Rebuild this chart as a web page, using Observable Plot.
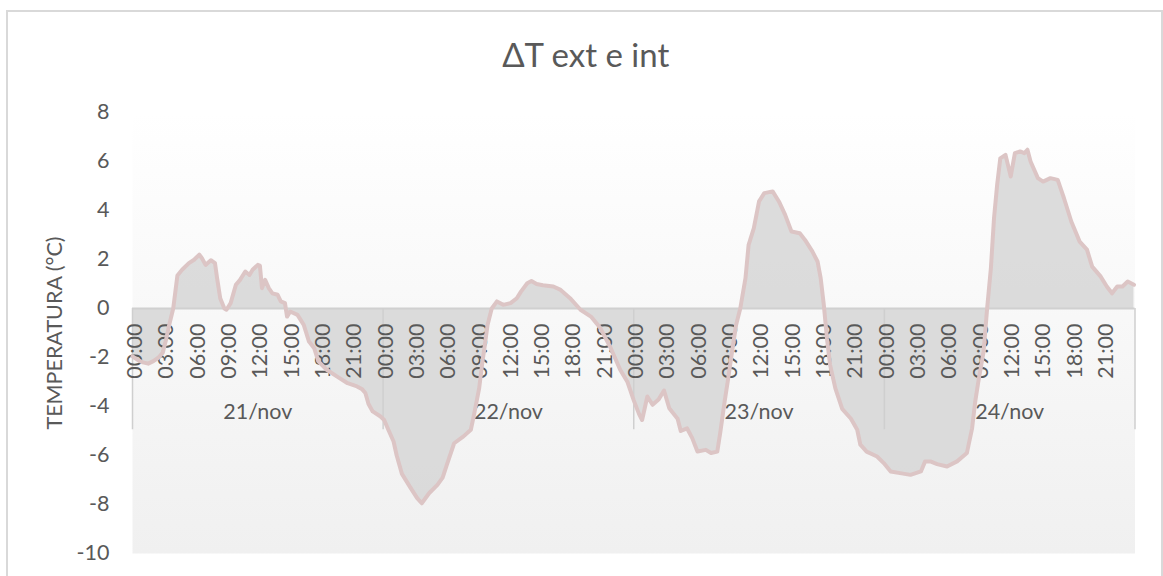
<!DOCTYPE html>
<html>
<head>
<meta charset="utf-8">
<script src="https://cdn.jsdelivr.net/npm/d3@7"></script>
<script src="https://cdn.jsdelivr.net/npm/@observablehq/plot@0.6"></script>
<style>
  html, body { margin: 0; padding: 0; background: #fff; }
  #wrap { position: relative; width: 1163px; height: 576px; overflow: hidden; }
  #border { position: absolute; left: 6px; top: 10px; width: 1153px; height: 600px;
            border: 2px solid #d9d9d9; pointer-events: none; }
  #chart { position: absolute; left: 0; top: 0; }
</style>
</head>
<body>
<div id="wrap"><div id="chart"></div><div id="border"></div></div>
<script>
// ---- data (hours since 21/nov 00:00, ΔT in °C) ----
const hours = [
  0.0, 0.5, 1.0, 1.5, 2.0, 2.5, 2.9, 3.2, 3.5, 3.9, 4.3, 4.75, 5.4, 5.9, 6.4, 6.65, 7.0, 7.5, 7.9, 8.1,
  8.4, 8.8, 9.0, 9.4, 9.9, 10.3, 10.8, 11.2, 11.5, 12.0, 12.2, 12.4, 12.7, 13.05, 13.4, 13.9, 14.2, 14.6, 14.8, 15.1,
  15.8, 16.4, 16.9, 17.4, 17.8, 18.6, 19.6, 20.6, 21.5, 22.0, 22.3, 22.6, 23.0, 23.75, 24.1, 24.5, 25.0, 25.3, 25.8, 26.6,
  27.26, 27.7, 28.4, 29.2, 29.7, 30.1, 30.8, 31.7, 32.4, 32.7, 33.2, 33.5, 33.7, 34.0, 34.4, 34.9, 35.5, 36.2, 36.8, 37.2,
  37.8, 38.2, 38.7, 39.3, 40.3, 41.0, 41.9, 42.9, 43.9, 44.8, 45.8, 46.7, 47.4, 48.0, 48.5, 48.8, 49.3, 49.8, 50.4, 50.9,
  51.4, 52.2, 52.5, 53.1, 53.6, 54.1, 54.9, 55.4, 56.0, 56.3, 56.7, 57.0, 57.4, 57.8, 58.2, 58.7, 59.0, 59.5, 60.0, 60.5,
  61.3, 61.9, 62.5, 63.1, 63.9, 64.4, 65.1, 65.6, 65.9, 66.2, 66.5, 66.8, 67.3, 67.96, 68.8, 69.4, 69.7, 70.3, 71.3, 71.94,
  72.6, 73.5, 74.5, 75.5, 75.9, 76.4, 77.05, 78.0, 78.96, 79.9, 80.4, 80.7, 81.0, 81.5, 81.84, 82.2, 82.5, 82.8, 83.1, 83.6,
  84.1, 84.5, 85.0, 85.4, 85.7, 86.0, 86.7, 87.2, 87.9, 88.6, 89.2, 89.9, 90.7, 91.4, 91.9, 92.7, 93.3, 93.8, 94.3, 94.8,
  95.3, 95.9
];
const deltaT = [
  -1.95, -2.1, -2.2, -2.25, -2.15, -2.0, -1.8, -1.3, -0.7, 0.0, 1.35, 1.58, 1.85, 1.99, 2.2, 2.05, 1.78, 1.97, 1.85, 1.24,
  0.42, 0.0, -0.05, 0.22, 0.97, 1.17, 1.51, 1.37, 1.58, 1.78, 1.75, 0.83, 1.17, 0.83, 0.62, 0.56, 0.29, 0.22, -0.33, -0.12,
  -0.26, -0.67, -1.35, -1.62, -2.16, -2.5, -2.78, -3.05, -3.18, -3.3, -3.45, -3.9, -4.2, -4.41, -4.55, -4.95, -5.43, -6.0, -6.75, -7.3,
  -7.74, -7.95, -7.54, -7.2, -6.9, -6.38, -5.5, -5.22, -4.95, -4.34, -3.25, -2.2, -1.62, -0.67, 0.0, 0.29, 0.15, 0.22, 0.42, 0.69,
  1.03, 1.12, 1.0, 0.95, 0.9, 0.76, 0.42, -0.05, -0.33, -0.8, -1.62, -2.5, -3.0, -3.75, -4.3, -4.55, -3.59, -3.93, -3.7, -3.35,
  -4.07, -4.5, -5.0, -4.89, -5.29, -5.84, -5.77, -5.9, -5.84, -5.02, -3.8, -2.98, -1.8, -0.67, 0.0, 1.24, 2.6, 3.28, 4.37, 4.71,
  4.78, 4.37, 3.82, 3.14, 3.07, 2.8, 2.33, 1.92, 1.24, 0.15, -1.21, -2.3, -3.25, -4.1, -4.5, -4.95, -5.56, -5.84, -6.04, -6.31,
  -6.65, -6.72, -6.79, -6.65, -6.24, -6.24, -6.35, -6.45, -6.24, -5.9, -4.89, -3.8, -2.98, -1.76, 0.0, 1.65, 3.69, 5.05, 6.13, 6.27,
  5.39, 6.34, 6.41, 6.34, 6.48, 6.0, 5.32, 5.18, 5.32, 5.25, 4.5, 3.55, 2.73, 2.4, 1.71, 1.31, 0.9, 0.62, 0.9, 0.9,
  1.1, 0.97
];
const timeLabels = ["00:00", "03:00", "06:00", "09:00", "12:00", "15:00", "18:00", "21:00"];
const dayLabels = ["21/nov", "22/nov", "23/nov", "24/nov"];
const yTicks = [-10, -8, -6, -4, -2, 0, 2, 4, 6, 8];
const titleText = "ΔT ext e int";
const yTitle = "TEMPERATURA (°C)";

// ---- derived tables ----
const data = hours.map((h, i) => ({h, v: deltaT[i]}));
const timeTicks = dayLabels.flatMap((d, di) => timeLabels.map((t, ti) => ({h: di * 24 + ti * 3, t})));
const days = dayLabels.map((d, i) => ({mid: i * 24 + 12, d}));
const bounds = d3.range(dayLabels.length + 1).map(i => i * 24);

const font = "Lato, 'Open Sans', 'Liberation Sans', sans-serif";
const textColor = "#595959";

const chart = Plot.plot({
  width: 1163,
  height: 576,
  marginLeft: 132,
  marginRight: 28.5,
  marginTop: 112,
  marginBottom: 23,
  style: {fontFamily: font, fontSize: "21.5px", color: textColor, background: "transparent"},
  x: {domain: [0, 96], axis: null},
  y: {domain: [-10, 8], axis: null},
  marks: [
    Plot.frame({fill: "url(#plotbg)", stroke: "none"}),
    Plot.areaY(data, {x: "h", y: "v", fill: "#d6d6d6", fillOpacity: 0.85}),
    Plot.ruleY([0], {stroke: "#d0d0d0", strokeWidth: 2}),
    Plot.ruleX(bounds, {y1: 0, y2: -4.95, stroke: "#cfcfcf", strokeWidth: 1.5}),
    Plot.text(timeTicks, {x: "h", y: () => 0, text: "t", rotate: -90, textAnchor: "end", lineAnchor: "middle", dy: 15, dx: 2.5, fill: textColor}),
    Plot.text(days, {x: "mid", y: () => 0, text: "d", lineAnchor: "middle", dy: 104, fill: textColor}),
    Plot.lineY(data, {x: "h", y: "v", stroke: "#dcc5c5", strokeWidth: 4, strokeLinejoin: "round", strokeLinecap: "round"}),
    Plot.axisY(yTicks, {tickSize: 0, tickPadding: 23, tickFormat: d => String(d), label: null, fill: textColor}),
    Plot.text([yTitle], {frameAnchor: "left", textAnchor: "middle", lineAnchor: "middle", rotate: -90, dx: -77, fill: textColor}),
    Plot.text([titleText], {frameAnchor: "top", textAnchor: "middle", lineAnchor: "middle", dy: -56, dx: -48, fontSize: 33, fill: textColor})
  ]
});

const svg = d3.select(chart);
const defs = svg.insert("defs", ":first-child");
const grad = defs.append("linearGradient").attr("id", "plotbg")
  .attr("x1", 0).attr("y1", 0).attr("x2", 0).attr("y2", 1);
grad.append("stop").attr("offset", "0%").attr("stop-color", "#ffffff");
grad.append("stop").attr("offset", "100%").attr("stop-color", "#f0f0f0");

document.getElementById("chart").appendChild(chart);
</script>
</body>
</html>
